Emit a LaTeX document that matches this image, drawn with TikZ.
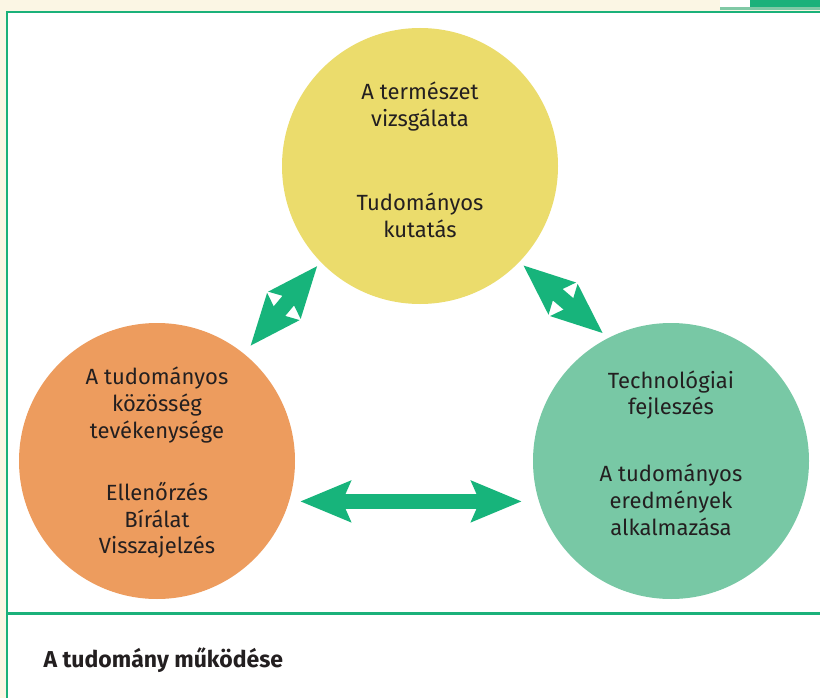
\documentclass[tikz,border=0pt]{standalone}
\usepackage{fontspec}
\setmainfont{Fira Sans}
\usetikzlibrary{arrows.meta}

\definecolor{krem}{HTML}{FBF6E4}
\definecolor{keretzold}{HTML}{1BB17A}
\definecolor{vilagoszold}{HTML}{80C9A6}
\definecolor{nyilzold}{HTML}{17B47B}
\definecolor{sarga}{HTML}{EBDC6C}
\definecolor{narancs}{HTML}{ED9C5E}
\definecolor{menta}{HTML}{78C8A5}
\definecolor{szoveg}{HTML}{231F20}

\begin{document}
\begin{tikzpicture}[x=1pt, y=-1pt,
	kor/.style={circle, minimum size=276pt, inner sep=0pt},
	felirat/.style={align=center, text=szoveg, font=\fontsize{22}{26.8}\selectfont},
	nyil/.style={draw=nyilzold, line width=15pt,
		{Stealth[length=50pt,width=40pt,inset=8pt]}-{Stealth[length=50pt,width=40pt,inset=8pt]}}]

	\useasboundingbox (0,0) rectangle (820,698);

	%keret
	\fill[krem] (0,0) rectangle (820,698);
	\fill[white] (7,12) rectangle (820,698);
	\fill[white] (720,0) rectangle (750,7);
	\fill[keretzold] (750,0) rectangle (820,7);
	\fill[vilagoszold] (720,7) rectangle (820,10.5);
	\draw[keretzold, line width=2.6pt] (7,698) -- (7,12) -- (820,12);
	\draw[keretzold, line width=2.6pt] (7,613.5) -- (820,613.5);

	%korok
	\node[kor, fill=sarga] (termeszet) at (420,166) {};
	\node[kor, fill=narancs] (kozosseg) at (157,461) {};
	\node[kor, fill=menta] (technologia) at (671,461) {};

	\node[felirat] (termeszetszoveg) at (420,160) {A természet\\vizsgálata\\[57pt]Tudományos\\kutatás};
	\node[felirat] (kozossegszoveg) at (157,463) {A tudományos\\közösség\\tevékenysége\\[35pt]Ellenőrzés\\Bírálat\\Visszajelzés};
	\node[felirat] (technologiaszoveg) at (671,453) {Technológiai\\fejleszés\\[40pt]A tudományos\\eredmények\\alkalmazása};

	%nyilak
	\draw[nyil, shorten <=10pt, shorten >=5pt] (kozosseg.51) -- (termeszet.224);
	\draw[nyil, shorten <=5pt, shorten >=7pt] (termeszet.-44) -- (technologia.117);
	\draw[nyil, shorten <=11pt, shorten >=17pt] (kozosseg.-17) -- (technologia.197);

	%cim
	\node[anchor=west, text=szoveg, font=\bfseries\fontsize{23}{25}\selectfont] (cim) at (40,660) {A tudomány működése};

\end{tikzpicture}
\end{document}
